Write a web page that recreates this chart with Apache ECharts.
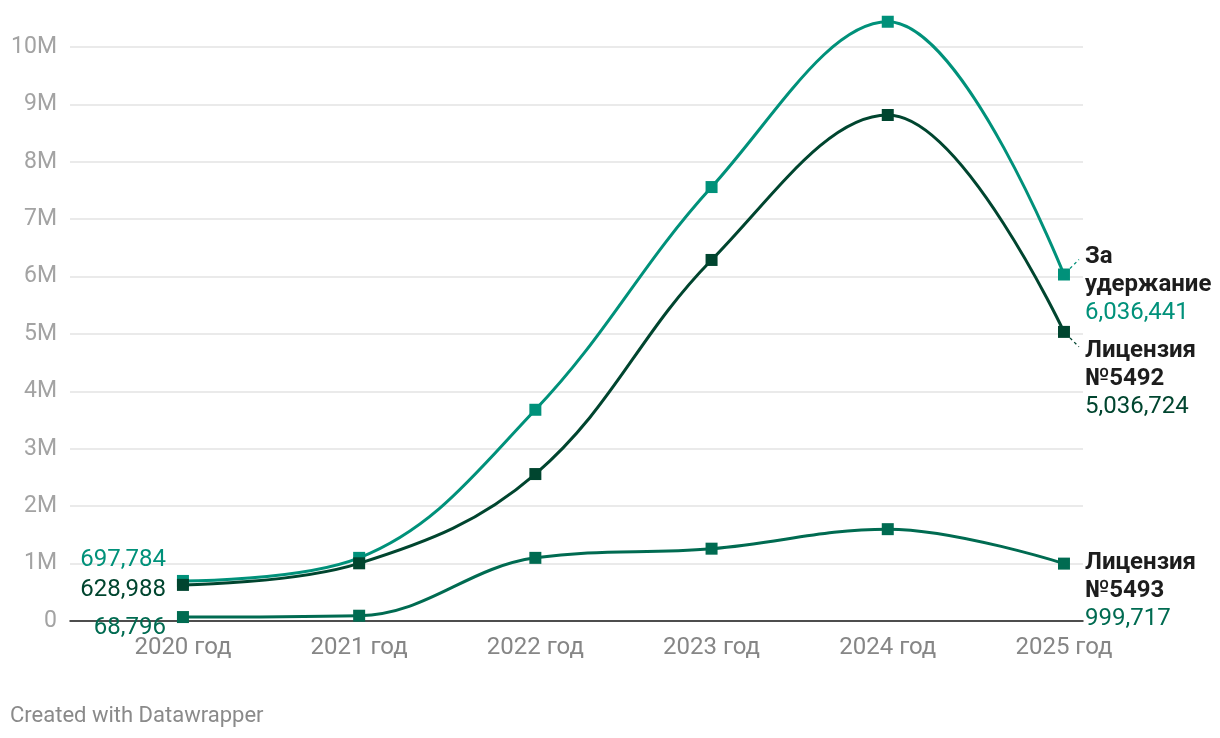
<!DOCTYPE html>
<html>
<head>
<meta charset="utf-8">
<script src="https://cdn.jsdelivr.net/npm/echarts@6/dist/echarts.min.js"></script>
<style>
html,body{margin:0;padding:0;background:#fff;}
#chart{width:1220px;height:738px;}
</style>
</head>
<body>
<div id="chart"></div>
<script>
const categories = ['2020 год', '2021 год', '2022 год', '2023 год', '2024 год', '2025 год'];
const seriesNames = ['За удержание', 'Лицензия №5492', 'Лицензия №5493'];
const total   = [697784, 1100000, 3680000, 7560000, 10440000, 6036441];
const lic5492 = [628988, 1005000, 2560000, 6290000, 8815000, 5036724];
const lic5493 = [68796, 92000, 1100000, 1260000, 1600000, 999717];
const yTicks = [0, 1e6, 2e6, 3e6, 4e6, 5e6, 6e6, 7e6, 8e6, 9e6, 10e6];

const colors = ['#00917a', '#00452f', '#006b51'];
const leftOffsets = [[0, -21], [0, 5], [0, 11]];
const rightOffsets = [[0, 10], [0, 47], [0, 27]];
const leaderDir = [[1, -1], [1, 1], null];
const FONT = 'Roboto, "Noto Sans", sans-serif';
const fmt = v => v.toLocaleString('en-US');

function buildData(values, si) {
  const last = values.length - 1;
  return values.map((v, i) => {
    const item = { value: [i, v] };
    if (i === 0) {
      item.label = {
        show: true, position: 'left', distance: 11, offset: leftOffsets[si],
        formatter: () => fmt(v), color: colors[si], fontSize: 24, fontFamily: FONT
      };
    } else if (i === last) {
      const nameLines = seriesNames[si].split(' ').map(s => '{n|' + s + '}').join('\n');
      item.label = {
        show: true, position: 'right', distance: 15, offset: rightOffsets[si],
        align: 'left',
        formatter: () => nameLines + '\n{v|' + fmt(v) + '}',
        rich: {
          n: { fontSize: 24, fontWeight: 'bold', color: '#1d1d1d', fontFamily: FONT, lineHeight: 28 },
          v: { fontSize: 24, color: colors[si], fontFamily: FONT, lineHeight: 28 }
        }
      };
    } else {
      item.label = { show: false };
    }
    return item;
  });
}

const seriesValues = [total, lic5492, lic5493];
const chart = echarts.init(document.getElementById('chart'), null, { renderer: 'canvas' });
chart.setOption({
  animation: false,
  backgroundColor: '#fff',
  textStyle: { fontFamily: FONT },
  title: {
    text: 'Created with Datawrapper', left: 10, top: 705, padding: 0,
    textStyle: { fontSize: 22, fontWeight: 'normal', color: '#8a8a8a', fontFamily: FONT }
  },
  grid: { left: 70, right: 137, top: 47, bottom: 117, containLabel: false },
  xAxis: {
    type: 'value', min: -0.641, max: 5.108,
    axisLine: { show: true, onZero: true, lineStyle: { color: '#1a1a1a', width: 1.5 } },
    axisTick: { show: false },
    splitLine: { show: false },
    axisLabel: {
      customValues: categories.map((c, i) => i),
      formatter: v => categories[Math.round(v)] || '',
      fontSize: 24, color: '#868686', margin: 15, fontFamily: FONT
    }
  },
  yAxis: {
    type: 'value', min: 0, max: 10e6, interval: 1e6,
    axisLine: { show: false }, axisTick: { show: false },
    splitLine: { lineStyle: { color: '#e3e3e3', width: 1.5 } },
    axisLabel: {
      customValues: yTicks,
      formatter: v => v === 0 ? '0' : (v / 1e6) + 'M',
      fontSize: 23, color: '#a3a3a3', margin: 13, fontFamily: FONT
    }
  },
  series: seriesValues.map((vals, si) => ({
    name: seriesNames[si],
    type: 'line',
    smooth: 0.38,
    clip: false,
    symbol: 'rect',
    symbolSize: 12,
    z: 3 + si,
    lineStyle: { color: colors[si], width: 3 },
    itemStyle: { color: colors[si] },
    data: buildData(vals, si)
  }))
});

// short dashed leader lines from the last markers toward their labels
const graphics = [];
seriesValues.forEach((vals, si) => {
  const dir = leaderDir[si];
  if (!dir) return;
  const last = vals.length - 1;
  const p = chart.convertToPixel({ gridIndex: 0 }, [last, vals[last]]);
  const x0 = p[0] + 6, y0 = p[1] + dir[1] * 6;
  graphics.push({
    type: 'line', z: 10,
    shape: { x1: x0, y1: y0, x2: x0 + 9 * dir[0], y2: y0 + 9 * dir[1] },
    style: { stroke: colors[si], lineWidth: 1.3, lineDash: [3, 3] }
  });
});
chart.setOption({ graphic: graphics });
</script>
</body>
</html>
